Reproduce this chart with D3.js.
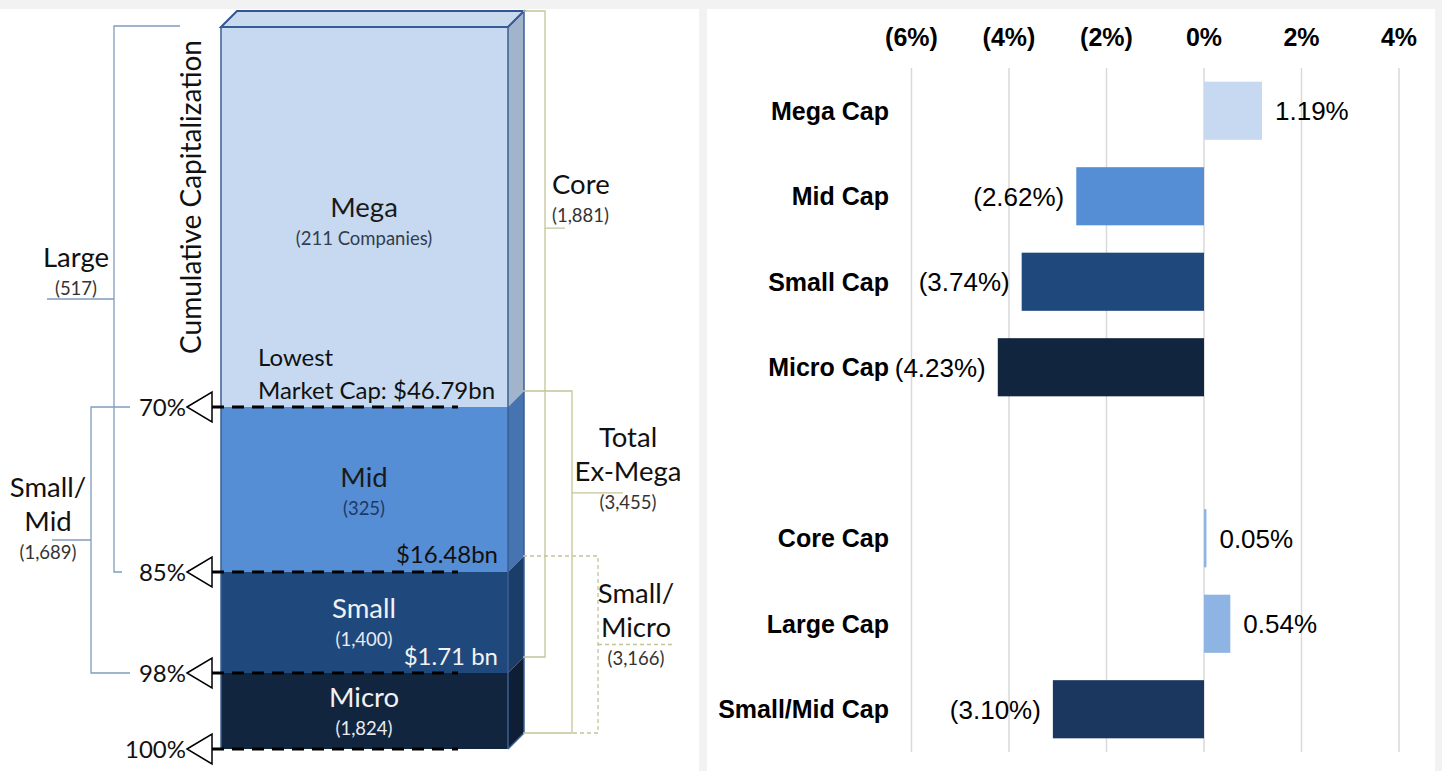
<!DOCTYPE html>
<html>
<head>
<meta charset="utf-8">
<script src="https://cdn.jsdelivr.net/npm/d3@7/dist/d3.min.js"></script>
<style>
  body { margin: 0; background: #f2f2f2; }
  svg { display: block; }
  .diag text { font-family: Lato, "Open Sans", sans-serif; }
  .bars text { font-family: "Liberation Sans", Arial, sans-serif; }
</style>
</head>
<body>
<div id="chart"></div>
<script>
// ---- left diagram data ----
var tiers = ["Mega", "Mid", "Small", "Micro"];
var tierCounts = ["(211 Companies)", "(325)", "(1,400)", "(1,824)"];
var cumPct = [70, 85, 98, 100];
var cutoffs = ["$46.79bn", "$16.48bn", "$1.71 bn"];

// groupings of tiers: name lines, count, from/to cumulative %
var groupNames = [["Large"], ["Small/", "Mid"], ["Core"], ["Total", "Ex-Mega"], ["Small/", "Micro"]];
var groupCounts = ["(517)", "(1,689)", "(1,881)", "(3,455)", "(3,166)"];
var groupFrom = [0, 70, 0, 70, 85];
var groupTo = [85, 98, 98, 100, 100];

// ---- right bar chart data ----
var categories = ["Mega Cap", "Mid Cap", "Small Cap", "Micro Cap", "", "Core Cap", "Large Cap", "Small/Mid Cap"];
var returns = [1.19, -2.62, -3.74, -4.23, null, 0.05, 0.54, -3.10];
var ticks = [-6, -4, -2, 0, 2, 4];

var barColors = ["#c6d9f1", "#558ed5", "#1f497d", "#12253f", "#fff", "#8db4e2", "#8eb4e3", "#1b375f"];
var frontColors = ["#c6d9f1", "#558ed5", "#1f497d", "#12253f"];
var sideColors = ["#a2b4cc", "#4674b1", "#1a3d69", "#0e1e34"];

var W = 1442, H = 771;
var svg = d3.select("#chart").append("svg")
    .attr("width", W)
    .attr("height", H);

// panels
svg.append("rect").attr("x", 0).attr("y", 9).attr("width", 699).attr("height", H - 9).attr("fill", "#fff");
svg.append("rect").attr("x", 707).attr("y", 9).attr("width", 728).attr("height", H - 9).attr("fill", "#fff");

// ================= left: cumulative capitalization column =================
var diag = svg.append("g").attr("class", "diag");

// schematic (not to scale) position of each cumulative % boundary
var yCum = d3.scaleLinear()
    .domain([0, 70, 85, 98, 100])
    .range([27, 407, 572, 673, 749]);

var x0 = 221, x1 = 508, dx = 16, dy = -16;

var segs = tiers.map(function(t, i) {
  return { name: t, count: tierCounts[i], from: i == 0 ? 0 : cumPct[i - 1], to: cumPct[i], i: i };
});

// side faces
diag.selectAll(".side")
  .data(segs)
  .enter().append("path")
    .attr("class", "side")
    .attr("fill", function(d) { return sideColors[d.i]; })
    .attr("d", function(d) {
      var a = yCum(d.from), b = yCum(d.to);
      return "M" + x1 + "," + a + "L" + (x1 + dx) + "," + (a + dy) + "L" + (x1 + dx) + "," + (b + dy) + "L" + x1 + "," + b + "Z";
    });

// front faces
diag.selectAll(".front")
  .data(segs)
  .enter().append("rect")
    .attr("class", "front")
    .attr("x", x0)
    .attr("y", function(d) { return yCum(d.from); })
    .attr("width", x1 - x0)
    .attr("height", function(d) { return yCum(d.to) - yCum(d.from); })
    .attr("fill", function(d) { return frontColors[d.i]; });

// top face
var yt = yCum(0);
diag.append("path")
  .attr("d", "M" + x0 + "," + yt + "L" + (x0 + dx) + "," + (yt + dy) + "L" + (x1 + dx) + "," + (yt + dy) + "L" + x1 + "," + yt + "Z")
  .attr("fill", "#c9daef")
  .attr("stroke", "#2f5597")
  .attr("stroke-width", 2);

// outline
diag.append("path")
  .attr("d", "M" + x0 + "," + yCum(100) + "V" + yt + "H" + x1 + "V" + yCum(100)
     + "M" + x1 + "," + yt + "L" + (x1 + dx) + "," + (yt + dy) + "V" + (yCum(100) + dy) + "L" + x1 + "," + yCum(100))
  .attr("fill", "none")
  .attr("stroke", "#3b5f93")
  .attr("stroke-width", 1.5);

// boundary markers: dashed line, triangle, % label
var marks = diag.selectAll(".mark")
  .data(cumPct)
  .enter().append("g")
    .attr("class", "mark")
    .attr("transform", function(d) { return "translate(0," + yCum(d) + ")"; });

marks.append("line")
  .attr("x1", 212).attr("x2", 458)
  .attr("stroke", "#000")
  .attr("stroke-width", 3)
  .attr("stroke-dasharray", "12,8");

marks.append("path")
  .attr("d", "M187,0L212,-15L212,15Z")
  .attr("fill", "#fff")
  .attr("stroke", "#000")
  .attr("stroke-width", 1.5);

marks.append("text")
  .attr("x", 186)
  .attr("dy", "0.36em")
  .attr("text-anchor", "end")
  .attr("font-size", 24)
  .attr("fill", "#111")
  .text(function(d) { return d + "%"; });

// tier labels
var tierText = ["#1a1a1a", "#1a1a1a", "#f2f2f2", "#f2f2f2"];
var countText = ["#333d4d", "#1f3864", "#e8ecf2", "#e8ecf2"];
var labelY = [207, 477, 608, 697];
var tl = diag.selectAll(".tier")
  .data(segs)
  .enter().append("g")
    .attr("class", "tier")
    .attr("transform", function(d) { return "translate(364," + labelY[d.i] + ")"; });

tl.append("text")
  .attr("text-anchor", "middle")
  .attr("dy", "0.36em")
  .attr("font-size", 27.5)
  .attr("fill", function(d) { return tierText[d.i]; })
  .text(function(d) { return d.name; });

tl.append("text")
  .attr("text-anchor", "middle")
  .attr("y", 31)
  .attr("dy", "0.36em")
  .attr("font-size", 18.5)
  .attr("fill", function(d) { return countText[d.i]; })
  .text(function(d) { return d.count; });

// lowest market cap cutoffs
diag.append("text")
  .attr("x", 258).attr("y", 357).attr("dy", "0.36em")
  .attr("font-size", 24).attr("fill", "#111")
  .text("Lowest");
diag.append("text")
  .attr("x", 258).attr("y", 390).attr("dy", "0.36em")
  .attr("font-size", 24).attr("fill", "#111")
  .text("Market Cap: " + cutoffs[0]);
diag.append("text")
  .attr("x", 498).attr("y", 554).attr("dy", "0.36em")
  .attr("text-anchor", "end")
  .attr("font-size", 24).attr("fill", "#111")
  .text(cutoffs[1]);
diag.append("text")
  .attr("x", 498).attr("y", 656).attr("dy", "0.36em")
  .attr("text-anchor", "end")
  .attr("font-size", 24).attr("fill", "#f2f2f2")
  .text(cutoffs[2]);

// axis title
diag.append("text")
  .attr("transform", "translate(201,197)rotate(-90)")
  .attr("text-anchor", "middle")
  .attr("font-size", 28)
  .attr("fill", "#111")
  .text("Cumulative Capitalization");

// brackets: left side ones hang off the front edge, right side ones off the back edge
var brk = [
  { side: "L", x: 114, end: [180, 122], tick: 0.5, tickLen: 67, lx: 76, ly: -42, color: "#7f9dbd", dash: null },
  { side: "L", x: 91, end: [130, 130], tick: 0.5, tickLen: 39, lx: 48, ly: -53, color: "#7f9dbd", dash: null },
  { side: "R", x: 545, end: [523, 523], tick: 0.336, tickLen: 20, lx: 552, ly: -44, color: "#c3c596", dash: null, anchor: "start" },
  { side: "R", x: 572, end: [523, 523], tick: 0.298, tickLen: 51, lx: 628, ly: -56, color: "#c3c596", dash: null },
  { side: "R", x: 598, end: [523, 572], tick: 0.5, tickLen: 75, lx: 636, ly: -51, color: "#c3c596", dash: "4,3" }
];

brk.forEach(function(b, i) {
  var off = b.side == "R" ? dy : 0;
  var top = yCum(groupFrom[i]) + off - (b.side == "L" && groupFrom[i] == 0 ? 1 : 0);
  var bot = yCum(groupTo[i]) + off;
  var ty = top + (bot - top) * b.tick;
  var tx2 = b.side == "L" ? b.x - b.tickLen : b.x + b.tickLen;
  var g = diag.append("g")
    .attr("fill", "none")
    .attr("stroke", b.color)
    .attr("stroke-width", 1.3)
    .attr("stroke-dasharray", b.dash);
  g.append("path")
    .attr("d", "M" + b.end[0] + "," + top + "H" + b.x + "V" + bot + "H" + b.end[1]
       + "M" + b.x + "," + ty + "H" + tx2);

  var lines = groupNames[i];
  var anchor = b.anchor || "middle";
  lines.forEach(function(t, j) {
    diag.append("text")
      .attr("x", b.lx)
      .attr("y", ty + b.ly + j * 34)
      .attr("dy", "0.36em")
      .attr("text-anchor", anchor)
      .attr("font-size", 27.5)
      .attr("fill", "#111")
      .text(t);
  });
  diag.append("text")
    .attr("x", b.lx)
    .attr("y", ty + b.ly + (lines.length - 1) * 34 + 31)
    .attr("dy", "0.36em")
    .attr("text-anchor", anchor)
    .attr("font-size", 18.5)
    .attr("fill", "#333")
    .text(groupCounts[i]);
});

// ================= right: returns by cap tier =================
var bars = svg.append("g").attr("class", "bars");

var x = d3.scaleLinear()
    .domain([-6, 4])
    .range([911.5, 1399]);

var y = d3.scaleBand()
    .domain(categories.map(function(c, i) { return i; }))
    .range([68, 752])
    .paddingInner(0.32)
    .paddingOuter(0.16);

function pct(v) {
  return v < 0 ? "(" + d3.format(".2f")(-v) + "%)" : d3.format(".2f")(v) + "%";
}

// gridlines
bars.selectAll(".grid")
  .data(ticks)
  .enter().append("line")
    .attr("class", "grid")
    .attr("x1", x).attr("x2", x)
    .attr("y1", 68).attr("y2", 752)
    .attr("stroke", "#d9d9d9")
    .attr("stroke-width", 1.5);

// tick labels on top
bars.selectAll(".tick")
  .data(ticks)
  .enter().append("text")
    .attr("class", "tick")
    .attr("x", x)
    .attr("y", 46)
    .attr("text-anchor", "middle")
    .attr("font-size", 25)
    .attr("font-weight", "bold")
    .attr("fill", "#000")
    .text(function(d) { return d < 0 ? "(" + (-d) + "%)" : d + "%"; });

var rows = categories.map(function(c, i) { return { cat: c, v: returns[i], i: i }; })
  .filter(function(d) { return d.v !== null; });

bars.selectAll(".bar")
  .data(rows)
  .enter().append("rect")
    .attr("class", "bar")
    .attr("x", function(d) { return x(Math.min(0, d.v)); })
    .attr("y", function(d) { return y(d.i); })
    .attr("width", function(d) { return Math.abs(x(d.v) - x(0)); })
    .attr("height", y.bandwidth())
    .attr("fill", function(d) { return barColors[d.i]; });

bars.selectAll(".cat")
  .data(rows)
  .enter().append("text")
    .attr("class", "cat")
    .attr("x", 889)
    .attr("y", function(d) { return y(d.i) + y.bandwidth() / 2; })
    .attr("dy", "0.35em")
    .attr("text-anchor", "end")
    .attr("font-size", 25)
    .attr("font-weight", "bold")
    .attr("fill", "#000")
    .text(function(d) { return d.cat; });

bars.selectAll(".val")
  .data(rows)
  .enter().append("text")
    .attr("class", "val")
    .attr("x", function(d) { return d.v < 0 ? x(d.v) - 12 : x(d.v) + 13; })
    .attr("y", function(d) { return y(d.i) + y.bandwidth() / 2; })
    .attr("dy", "0.36em")
    .attr("text-anchor", function(d) { return d.v < 0 ? "end" : "start"; })
    .attr("font-size", 26)
    .attr("fill", "#000")
    .text(function(d) { return pct(d.v); });
</script>
</body>
</html>
